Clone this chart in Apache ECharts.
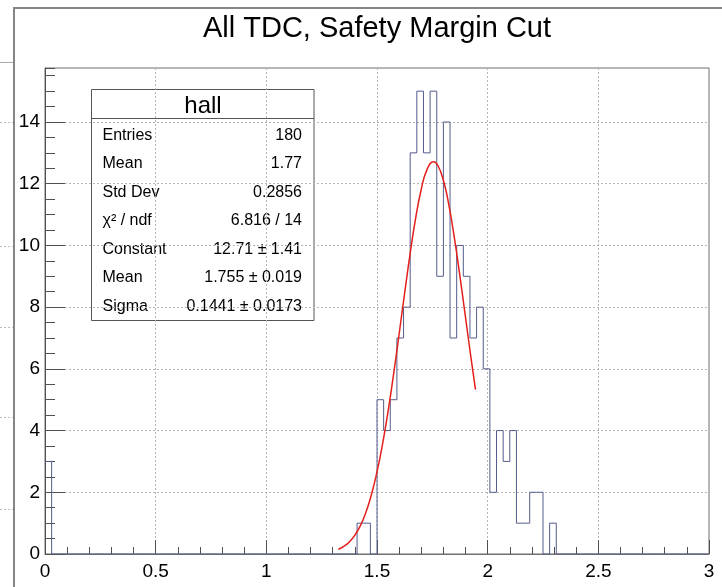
<!DOCTYPE html>
<html><head><meta charset="utf-8">
<script src="https://cdn.jsdelivr.net/npm/echarts@6/dist/echarts.min.js"></script>
<style>html,body{margin:0;padding:0;background:#fff}#c{width:722px;height:587px}</style>
</head><body><div id="c"></div>
<script>
// ---- data ----
const chartTitle = 'All TDC, Safety Margin Cut';
const xMin = 0, xMax = 3, binWidth = 0.03;
const binCounts = [3,
  0,0,0,0,0,0,0,0,0,0, 0,0,0,0,0,0,0,0,0,0, 0,0,0,0,0,0,0,0,0,0, 0,0,0,0,0,0,0,0,0,0, 0,0,0,0,0,0,
  1,1,0,5,4,5,7,8,13,15,13,15,9,14,7,10,9,7,8,6,2,4,3,4,1,1,2,2,0,1,
  0,0,0,0,0,0,0,0,0,0, 0,0,0,0,0,0,0,0,0,0, 0,0,0];
const fitX = [1.325,1.35,1.375,1.40,1.425,1.45,1.475,1.50,1.525,1.55,1.575,1.60,1.625,1.65,1.675,1.70,1.725,1.755,1.775,1.80,1.825,1.85,1.875,1.90,1.925,1.945];
const fitY = [0.15,0.25,0.39,0.61,0.92,1.35,1.93,2.66,3.56,4.62,5.83,7.13,8.46,9.75,10.90,11.82,12.44,12.71,12.59,12.11,11.30,10.23,8.99,7.66,6.34,5.33];
const yMin = 0, yMax = 15.75, yMajor = 2, yMinor = 0.5;
const xMajor = 0.5;
const statTitle = 'hall';
const statLabels = ['Entries','Mean','Std Dev','\u03c7\u00b2 / ndf','Constant','Mean','Sigma'];
const statValues = ['180','1.77','0.2856','6.816 / 14','12.71 \u00b1 1.41','1.755 \u00b1 0.019','0.1441 \u00b1 0.0173'];

// ---- build ----
const font = '"Liberation Sans", Arial, Helvetica, sans-serif';
const histData = binCounts.map((c, i) => [xMin + i * binWidth, c]);
histData.push([xMax, binCounts[binCounts.length - 1]]);
const fitData = fitX.map((x, i) => [x, fitY[i]]);

const chart = echarts.init(document.getElementById('c'), null, {renderer: 'canvas'});

const statChildren = [
  {type: 'rect', shape: {x: 91.5, y: 89.5, width: 222.5, height: 231}, style: {fill: '#fff', stroke: '#555', lineWidth: 1}},
  {type: 'line', shape: {x1: 91.5, y1: 118.5, x2: 314, y2: 118.5}, style: {stroke: '#555', lineWidth: 1}},
  {type: 'text', x: 203, y: 106.5, style: {text: statTitle, fill: '#000', font: '24px ' + font, align: 'center', verticalAlign: 'middle'}}
];
statLabels.forEach((lab, i) => {
  const y = 135.5 + 28.5 * i;
  statChildren.push({type: 'text', x: 102.5, y: y, style: {text: lab, fill: '#000', font: '16px ' + font, align: 'left', verticalAlign: 'middle'}});
  statChildren.push({type: 'text', x: 302, y: y, style: {text: statValues[i], fill: '#000', font: '16px ' + font, align: 'right', verticalAlign: 'middle'}});
});

const deco = [
  {type: 'rect', shape: {x: 14, y: 8, width: 720, height: 600}, style: {fill: 'none', stroke: '#858585', lineWidth: 2}},
  {type: 'line', shape: {x1: 0, y1: 62.5, x2: 13, y2: 62.5}, style: {stroke: '#aaa', lineWidth: 1}}
];
[122, 246, 327, 417, 509].forEach(y => deco.push({type: 'line', shape: {x1: 0, y1: y + 0.5, x2: 13, y2: y + 0.5}, style: {stroke: '#bbb', lineWidth: 1, lineDash: [2, 2]}}));

chart.setOption({
  backgroundColor: '#fff',
  animation: false,
  grid: {left: 45, right: 13, top: 68, bottom: 33, show: true, borderColor: '#707070', borderWidth: 1, backgroundColor: 'transparent'},
  xAxis: {
    type: 'value', min: xMin, max: xMax, interval: xMajor,
    axisLine: {show: true, onZero: false, lineStyle: {color: '#707070', width: 1}},
    axisTick: {show: true, inside: true, length: 14, lineStyle: {color: '#505050'}},
    minorTick: {show: true, splitNumber: 5, length: 7, lineStyle: {color: '#505050'}},
    axisLabel: {color: '#000', fontSize: 19, fontFamily: font, margin: 8},
    splitLine: {show: true, lineStyle: {type: [2, 2], color: '#b4b4b4', width: 1}}
  },
  yAxis: [{
    type: 'value', min: yMin, max: yMax, interval: yMajor,
    axisLine: {show: true, onZero: false, lineStyle: {color: '#505050', width: 1}},
    axisTick: {show: true, inside: true, length: 20, lineStyle: {color: '#505050'}},
    axisLabel: {color: '#000', fontSize: 19, fontFamily: font, margin: 5, showMaxLabel: false, padding: [4, 0, 0, 0]},
    splitLine: {show: true, lineStyle: {type: [2, 2], color: '#b4b4b4', width: 1}}
  }, {
    type: 'value', min: yMin, max: yMax, interval: yMinor, position: 'left',
    axisLine: {show: false},
    axisTick: {show: true, inside: true, length: 10, lineStyle: {color: '#505050'}},
    axisLabel: {show: false},
    splitLine: {show: false}
  }],
  series: [{
    type: 'line', name: 'hall', data: histData, step: 'end', symbol: 'none', yAxisIndex: 0,
    lineStyle: {color: '#545c8c', width: 1}, z: 3
  }, {
    type: 'line', name: 'fit', data: fitData, smooth: true, symbol: 'none', yAxisIndex: 0,
    lineStyle: {color: '#e3201c', width: 1.5}, z: 4
  }],
  graphic: [
    {type: 'group', z: 50, children: deco},
    {type: 'text', z: 60, x: 377, y: 28.5, style: {text: chartTitle, fill: '#000', font: '29px ' + font, align: 'center', verticalAlign: 'middle'}},
    {type: 'group', z: 100, children: statChildren}
  ]
});
</script></body></html>
